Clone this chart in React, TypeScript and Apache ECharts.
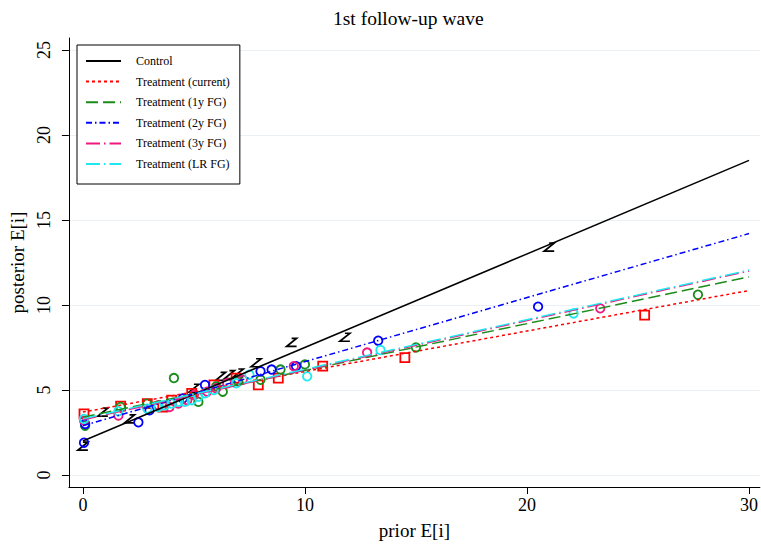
import React, { useEffect, useRef } from "react";
import * as echarts from "echarts";

// ---- data ----
const xTicks = [0, 10, 20, 30];
const yTicks = [0, 5, 10, 15, 20, 25];

const seriesNames = [
  "Control",
  "Treatment (current)",
  "Treatment (1y FG)",
  "Treatment (2y FG)",
  "Treatment (3y FG)",
  "Treatment (LR FG)",
];

const controlPts = [
  [0.0, 1.7], [0.9, 3.7], [2.1, 3.3], [5.0, 5.1], [6.2, 5.8], [6.6, 5.9],
  [7.0, 6.0], [7.8, 6.6], [9.4, 7.8], [11.8, 8.1], [21.0, 13.4],
];
const currentPts = [
  [0.05, 3.6], [1.7, 4.05], [2.9, 4.2], [3.6, 4.0], [4.0, 4.4], [4.9, 4.8],
  [5.9, 5.3], [6.9, 5.7], [7.9, 5.3], [8.8, 5.7], [10.8, 6.4], [14.5, 6.9], [25.3, 9.4],
];
const fg1Pts = [
  [0.1, 2.9], [1.7, 4.0], [2.9, 4.2], [4.1, 5.7], [5.2, 4.3], [6.0, 5.2],
  [6.3, 4.9], [7.0, 5.5], [8.0, 5.6], [8.9, 6.2], [10.0, 6.5], [15.0, 7.5], [27.7, 10.6],
];
const fg2Pts = [
  [0.05, 1.9], [0.1, 3.0], [2.5, 3.1], [3.0, 3.8], [4.5, 4.5], [5.5, 5.3],
  [8.0, 6.1], [8.5, 6.2], [9.6, 6.4], [13.3, 7.9], [20.5, 9.9],
];
const fg3Pts = [
  [0.05, 3.2], [1.6, 3.5], [3.4, 4.1], [3.9, 4.0], [4.3, 4.2], [4.7, 4.4],
  [5.0, 4.7], [5.6, 4.9], [6.0, 5.1], [6.5, 5.4], [7.2, 5.6], [9.5, 6.4], [12.8, 7.2], [23.3, 9.8],
];
const lrPts = [
  [0.05, 3.3], [1.6, 3.75], [2.9, 3.9], [3.4, 4.0], [3.7, 4.1], [4.0, 4.2],
  [4.3, 4.3], [4.6, 4.3], [4.9, 4.4], [5.2, 4.6], [5.5, 4.8], [5.9, 5.0],
  [6.9, 5.4], [7.5, 5.9], [10.1, 5.8], [13.4, 7.35], [22.1, 9.5],
];

// linear fit lines: values at fitX
const fitX = [0, 30];
const controlFit = [2.0, 18.5];
const currentFit = [3.7, 10.85];
const fg1Fit = [3.4, 11.65];
const fg2Fit = [2.9, 14.2];
const fg3Fit = [3.25, 12.0];
const lrFit = [3.3, 12.05];

const colors = ["#000000", "#ff0000", "#1a8c1a", "#0000ff", "#f0187e", "#1fe8f0"];
const dashes: any[] = ["solid", [3, 3], [12, 5], [6, 3, 1.5, 3], [14, 4, 1.5, 4], [14, 4, 1.5, 4]];

const FONT = "'Liberation Serif', 'Times New Roman', serif";

export default function App() {
  const ref = useRef<HTMLDivElement>(null);
  useEffect(() => {
    document.body.style.margin = "0";
    const chart = echarts.init(ref.current!, null, { renderer: "svg" });
    const pts = [controlPts, currentPts, fg1Pts, fg2Pts, fg3Pts, lrPts];
    const fits = [controlFit, currentFit, fg1Fit, fg2Fit, fg3Fit, lrFit];
    const symbols = [
      "path://M5,0 L10,0 L0,8 L10,8",
      "rect",
      "circle",
      "circle",
      "circle",
      "circle",
    ];
    const series: any[] = [];
    seriesNames.forEach((name, i) => {
      series.push({
        type: "scatter",
        name: name + " pts",
        data: pts[i],
        symbol: symbols[i],
        symbolSize: i === 0 ? [10, 8] : i === 1 ? 9 : 8.5,
        itemStyle: {
          color: "rgba(0,0,0,0)",
          borderColor: colors[i],
          borderWidth: 1.8,
          opacity: 1,
        },
        z: 2,
      });
      series.push({
        type: "line",
        name,
        data: fitX.map((x, k) => [x, fits[i][k]]),
        symbol: "none",
        lineStyle: { color: colors[i], width: 1.5, type: dashes[i] },
        itemStyle: { color: "rgba(0,0,0,0)", borderWidth: 0, opacity: 0 },
        z: 3,
      });
    });

    chart.setOption({
      animation: false,
      title: {
        text: "1st follow-up wave",
        left: 333,
        top: 8,
        padding: 0,
        textStyle: { fontFamily: FONT, fontSize: 19.5, fontWeight: "normal", color: "#000" },
      },
      legend: {
        data: seriesNames,
        orient: "vertical",
        left: 77,
        top: 45,
        padding: [10, 10, 14, 8],
        itemWidth: 35,
        itemHeight: 14,
        itemGap: 8.6,
        backgroundColor: "#fff",
        borderColor: "#000",
        borderWidth: 1,
        borderRadius: 0,
        itemStyle: { opacity: 0, borderWidth: 0 },
        textStyle: { fontFamily: FONT, fontSize: 12, color: "#000", padding: [0, 0, 0, 10] },
        selectedMode: false,
      },
      grid: { left: 68, right: 0, top: 38, bottom: 58, containLabel: false },
      xAxis: {
        type: "value",
        min: -0.63,
        max: 30.49,
        name: "prior E[i]",
        nameLocation: "middle",
        nameGap: 34,
        nameTextStyle: { fontFamily: FONT, fontSize: 19, color: "#000" },
        axisLine: { show: true, onZero: false, lineStyle: { color: "#000", width: 1 } },
        axisTick: { show: true, length: 7, customValues: xTicks, lineStyle: { color: "#000" } },
        axisLabel: { customValues: xTicks, fontFamily: FONT, fontSize: 18, color: "#000", margin: 9 },
        splitLine: { show: false },
      },
      yAxis: {
        type: "value",
        min: -0.706,
        max: 25.7,
        name: "posterior E[i]",
        nameLocation: "middle",
        nameRotate: 90,
        nameGap: 38,
        nameTextStyle: { fontFamily: FONT, fontSize: 19, color: "#000" },
        axisLine: { show: true, onZero: false, lineStyle: { color: "#000", width: 1 } },
        axisTick: { show: true, length: 7, customValues: yTicks, lineStyle: { color: "#000" } },
        axisLabel: { customValues: yTicks, rotate: 90, fontFamily: FONT, fontSize: 18, color: "#000", margin: 16 },
        splitLine: { show: true, lineStyle: { color: "#eaf0f3", width: 1 } },
      },
      series,
    });
    return () => chart.dispose();
  }, []);
  return <div ref={ref} style={{ position: "absolute", left: 0, top: 0, width: 761, height: 545 }} />;
}
